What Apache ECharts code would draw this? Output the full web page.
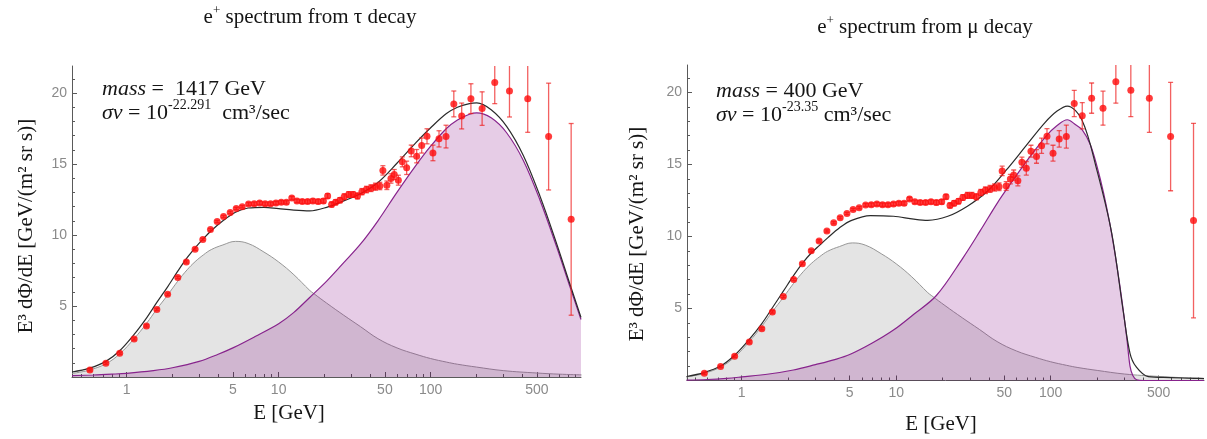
<!DOCTYPE html>
<html>
<head>
<meta charset="utf-8">
<script src="https://cdn.jsdelivr.net/npm/echarts@6.0.0/dist/echarts.min.js"></script>
<style>
  html, body { margin: 0; padding: 0; background: #fff; }
  #chart { width: 1207px; height: 439px; }
</style>
</head>
<body>
<div id="chart"></div>
<script>
// ---------- Tick values ----------
const xMajorTicks = [1, 5, 10, 50, 100, 500];
const xMinorTicks = [0.5, 0.6, 0.7, 0.8, 0.9, 2, 3, 4, 6, 7, 8, 9, 20, 30, 40, 60, 70, 80, 90, 200, 300, 400, 600, 700, 800, 900];
const yMajorTicks = [5, 10, 15, 20];
const yMinorTicks = [1, 2, 3, 4, 6, 7, 8, 9, 11, 12, 13, 14, 16, 17, 18, 19, 21];

// ---------- Measured positron data (E in GeV, E^3 flux) ----------
const dataE = [0.573, 0.73, 0.90, 1.12, 1.35, 1.58, 1.86, 2.17, 2.47, 2.82, 3.17, 3.56, 3.94, 4.34, 4.80, 5.26, 5.76, 6.34,
  6.9, 7.5, 8.15, 8.85, 9.6, 10.4, 11.25, 12.2, 13.2, 14.3, 15.5, 16.8, 18.2, 19.7, 21.0, 22.3, 23.7, 25.3, 27.0, 28.9,
  30.9, 33.0, 35.3, 37.8, 40.5, 43.3, 46.3, 48.5, 51.5, 54.8, 57.6, 61.3, 65.1, 69.5, 74.5, 80.9, 87.3, 94.6, 103.5,
  113.5, 126.2, 142, 160, 184, 218, 264, 330, 435, 597, 840];
const dataV = [0.50, 0.97, 1.68, 2.68, 3.60, 4.76, 5.83, 7.01, 8.10, 9.0, 9.69, 10.38, 10.95, 11.30, 11.59, 11.87, 11.99, 12.18,
  12.2, 12.25, 12.2, 12.2, 12.25, 12.3, 12.3, 12.6, 12.4, 12.35, 12.35, 12.4, 12.35, 12.4, 12.75, 12.15, 12.3, 12.45, 12.7, 12.85,
  12.85, 12.75, 13.05, 13.2, 13.3, 13.4, 13.45, 14.55, 13.5, 13.98, 14.26, 13.86, 15.15, 14.73, 15.92, 15.55, 16.30, 16.95, 15.78,
  16.77, 16.93, 19.23, 18.38, 19.6, 18.9, 20.73, 20.14, 19.6, 16.93, 11.1];
const dataErr = [0.08, 0.08, 0.08, 0.08, 0.08, 0.08, 0.08, 0.08, 0.08, 0.08, 0.08, 0.08, 0.08, 0.08, 0.08, 0.08, 0.08, 0.1,
  0.12, 0.12, 0.12, 0.12, 0.12, 0.12, 0.12, 0.12, 0.12, 0.13, 0.13, 0.14, 0.15, 0.15, 0.16, 0.17, 0.18, 0.18, 0.2, 0.2,
  0.2, 0.21, 0.22, 0.23, 0.24, 0.25, 0.26, 0.33, 0.3, 0.33, 0.35, 0.35, 0.35, 0.47, 0.41, 0.47, 0.53, 0.53, 0.55,
  0.57, 0.8, 0.91, 0.91, 1.05, 1.18, 1.48, 1.83, 2.37, 3.76, 6.75];

// ---------- Astrophysical background (grey) ----------
const bgE = [0.437, 0.5, 0.57, 0.73, 0.9, 1.12, 1.35, 1.58, 1.86, 2.17, 2.5, 2.82, 3.2, 3.6, 4.3, 5.2, 6.3, 8.0, 10, 12.6, 16, 17,
  20.7, 26.8, 34.5, 45, 60, 80, 100, 127, 150, 200, 300, 500, 700, 982];
const bgV = [0.25, 0.35, 0.49, 0.93, 1.63, 2.7, 3.77, 4.78, 5.77, 6.75, 7.55, 8.12, 8.6, 8.97, 9.3, 9.55, 9.4, 8.8, 8.1, 7.2, 6.1, 5.88,
  5.2, 4.35, 3.55, 2.7, 2.05, 1.6, 1.3, 1.05, 0.9, 0.7, 0.45, 0.28, 0.2, 0.15];

// ---------- tau channel, mass 1417 GeV ----------
const tauSigE = [0.437, 0.6, 0.8, 1.0, 1.5, 2.0, 3.0, 4.0, 5.0, 7.0, 10, 12.6, 16, 20.7, 26.8, 34.5, 45, 60, 80, 100, 127, 150,
  180, 201, 250, 316, 407, 524, 675, 825, 975];
const tauSigV = [0.1, 0.14, 0.2, 0.26, 0.45, 0.65, 1.1, 1.6, 2.05, 2.85, 3.75, 4.55, 5.6, 6.75, 8.05, 9.35, 11.0, 13.0, 14.9, 16.25,
  17.5, 18.1, 18.5, 18.6, 18.25, 17.2, 15.25, 12.45, 9.15, 6.35, 4.05];
const tauTotE = [0.437, 0.57, 0.73, 0.9, 1.12, 1.35, 1.58, 1.86, 2.17, 2.5, 2.82, 3.2, 3.6, 4.3, 5.2, 6.3, 8.0, 10, 12.6, 16,
  20.7, 26.8, 34.5, 45, 60, 80, 100, 127, 150, 180, 201, 250, 316, 407, 524, 675, 825, 975];
const tauTotV = [0.35, 0.62, 1.1, 1.85, 3.0, 4.15, 5.25, 6.35, 7.45, 8.4, 9.1, 9.75, 10.3, 11.0, 11.6, 11.9, 11.95, 11.85, 11.75, 11.7,
  11.95, 12.4, 12.9, 13.7, 15.05, 16.5, 17.55, 18.55, 19.0, 19.25, 19.3, 18.82, 17.65, 15.6, 12.73, 9.37, 6.53, 4.2];

// ---------- mu channel, mass 400 GeV ----------
const muSigE = [0.44, 0.6, 0.8, 1.0, 1.5, 2.16, 3.0, 4.0, 5.0, 7.0, 9.6, 13, 18.2, 27, 35, 45, 57, 73, 94, 110, 128, 145, 160,
  180, 199, 220, 248, 281, 310, 326, 340, 360, 400, 982];
const muSigV = [0.03, 0.07, 0.15, 0.25, 0.45, 0.73, 1.1, 1.45, 1.8, 2.6, 3.5, 4.6, 5.9, 8.5, 10.4, 12.3, 13.9, 15.5, 17.0, 17.7, 18.1,
  17.75, 17.4, 16.4, 14.9, 13.0, 10.2, 6.5, 3.05, 1.0, 0.35, 0.05, 0, 0];
const muTotE = [0.44, 0.57, 0.73, 0.9, 1.12, 1.35, 1.58, 1.86, 2.17, 2.5, 2.82, 3.2, 3.6, 4.3, 5.1, 6.8, 9.6, 13, 16, 21.6, 28.9,
  38.6, 51.5, 68.7, 91.8, 110, 128, 159, 199, 248, 296, 326, 357, 428, 600, 850, 982];
const muTotV = [0.28, 0.55, 1.0, 1.75, 2.85, 3.95, 5.05, 6.2, 7.3, 8.2, 8.85, 9.4, 9.9, 10.6, 11.1, 11.45, 11.4, 11.2, 11.12, 11.4, 12.1,
  13.1, 14.6, 16.25, 17.9, 18.7, 19.05, 18.1, 14.6, 10.24, 4.67, 1.89, 0.96, 0.27, 0.2, 0.15, 0.13];

// ---------- Texts ----------
const titles = ['spectrum from τ decay', 'spectrum from μ decay'];
const masses = ['1417', '400'];
const sigmaExps = ['-22.291', '-23.35'];
const xTitle = 'E [GeV]';
const yTitle = 'E³ dΦ/dE [GeV/(m² sr s)]';

// ---------- Build option ----------
const zip = (a, b) => a.map((v, i) => [v, b[i]]);
const axisColor = '#5a5a5a';
const serif = '"Liberation Serif", "Times New Roman", serif';

function mkX(gi, major, min, max) {
  return {
    type: 'log', logBase: 10, gridIndex: gi, min: min, max: max, position: 'bottom',
    axisLine: { show: major, onZero: false, lineStyle: { color: axisColor, width: 1 } },
    axisTick: { show: true, inside: true, length: major ? 5 : 3, customValues: major ? xMajorTicks : xMinorTicks,
      lineStyle: { color: axisColor, width: 1 } },
    axisLabel: { show: major, customValues: xMajorTicks, margin: 6, color: '#8a8a8a', fontSize: 14,
      fontFamily: '"Liberation Sans", Arial, sans-serif', formatter: v => String(Math.round(v)) },
    splitLine: { show: false }, minorTick: { show: false }
  };
}
function mkY(gi, major) {
  return {
    type: 'value', gridIndex: gi, min: 0, max: 21.9, position: 'left',
    axisLine: { show: major, onZero: false, lineStyle: { color: axisColor, width: 1 } },
    axisTick: { show: true, inside: true, length: major ? 5 : 3, customValues: major ? yMajorTicks : yMinorTicks,
      lineStyle: { color: axisColor, width: 1 } },
    axisLabel: { show: major, customValues: yMajorTicks, margin: 5, color: '#8a8a8a', fontSize: 14,
      fontFamily: '"Liberation Sans", Arial, sans-serif' },
    splitLine: { show: false }
  };
}

function errRender(params, api) {
  const x = api.value(0), lo = api.value(1), hi = api.value(2);
  const top = api.coord([x, hi]);
  const bot = api.coord([x, lo]);
  const w = 2.5;
  const style = { stroke: 'rgba(238,30,30,0.7)', lineWidth: 1.3 };
  return {
    type: 'group',
    children: [
      { type: 'line', shape: { x1: top[0], y1: top[1], x2: bot[0], y2: bot[1] }, style: style },
      { type: 'line', shape: { x1: top[0] - w, y1: top[1], x2: top[0] + w, y2: top[1] }, style: style },
      { type: 'line', shape: { x1: bot[0] - w, y1: bot[1], x2: bot[0] + w, y2: bot[1] }, style: style }
    ]
  };
}

function panelSeries(axisIdx, sigE, sigV, totE, totV) {
  return [
    { type: 'line', xAxisIndex: axisIdx, yAxisIndex: axisIdx, data: zip(bgE, bgV), showSymbol: false, smooth: 0.4,
      lineStyle: { color: '#969696', width: 1 }, areaStyle: { color: 'rgba(0,0,0,0.105)', opacity: 1 }, z: 1, silent: true },
    { type: 'line', xAxisIndex: axisIdx, yAxisIndex: axisIdx, data: zip(sigE, sigV), showSymbol: false, smooth: 0.35,
      lineStyle: { color: '#87238c', width: 1.2 }, areaStyle: { color: 'rgba(128,0,128,0.2)', opacity: 1 }, z: 2, silent: true },
    { type: 'line', xAxisIndex: axisIdx, yAxisIndex: axisIdx, data: zip(totE, totV), showSymbol: false, smooth: 0.35,
      lineStyle: { color: '#2b2b2b', width: 1.2 }, z: 3, silent: true },
    { type: 'custom', xAxisIndex: axisIdx, yAxisIndex: axisIdx, clip: true, renderItem: errRender, z: 4,
      encode: { x: 0, y: [1, 2] },
      data: dataE.map((e, i) => [e, dataV[i] - dataErr[i], dataV[i] + dataErr[i]]) },
    { type: 'scatter', xAxisIndex: axisIdx, yAxisIndex: axisIdx, data: zip(dataE, dataV), symbol: 'circle', symbolSize: 7,
      itemStyle: { color: '#ff0a0a' }, z: 5, clip: true }
  ];
}

function txt(x, y, text, rich, size, extra) {
  return {
    type: 'text', x: x, y: y, silent: true,
    style: Object.assign({ text: text, font: size + 'px ' + serif, fill: '#151515', rich: rich }, extra || {})
  };
}
const richBase = {
  n: { fontFamily: serif, fontSize: 22, lineHeight: 26, verticalAlign: 'bottom', color: '#151515' },
  i: { fontFamily: serif, fontSize: 22, fontStyle: 'italic', lineHeight: 26, verticalAlign: 'bottom', color: '#151515' },
  s: { fontFamily: serif, fontSize: 14, lineHeight: 13, verticalAlign: 'top', color: '#151515' }
};
const richTitle = {
  n: { fontFamily: serif, fontSize: 21, lineHeight: 24, verticalAlign: 'bottom', color: '#151515' },
  s: { fontFamily: serif, fontSize: 13, lineHeight: 12, verticalAlign: 'top', color: '#151515' }
};

const graphics = [
  txt(310, 16, '{n|e}{s|+}{n| ' + titles[0] + '}', richTitle, 21, { align: 'center', verticalAlign: 'middle' }),
  txt(925, 26, '{n|e}{s|+}{n| ' + titles[1] + '}', richTitle, 21, { align: 'center', verticalAlign: 'middle' }),
  txt(102, 87, '{i|mass}{n| =  ' + masses[0] + ' GeV}', richBase, 22, { align: 'left', verticalAlign: 'middle' }),
  txt(102, 111, '{i|σv}{n| = 10}{s|' + sigmaExps[0] + '}{n|  cm³/sec}', richBase, 22, { align: 'left', verticalAlign: 'middle' }),
  txt(716, 89, '{i|mass}{n| = ' + masses[1] + ' GeV}', richBase, 22, { align: 'left', verticalAlign: 'middle' }),
  txt(716, 113, '{i|σv}{n| = 10}{s|' + sigmaExps[1] + '}{n| cm³/sec}', richBase, 22, { align: 'left', verticalAlign: 'middle' }),
  txt(289, 413, xTitle, null, 21, { align: 'center', verticalAlign: 'middle' }),
  txt(941, 424, xTitle, null, 21, { align: 'center', verticalAlign: 'middle' }),
  Object.assign(txt(26, 226, yTitle, null, 21, { align: 'center', verticalAlign: 'middle' }), { rotation: Math.PI / 2 }),
  Object.assign(txt(637, 234, yTitle, null, 21, { align: 'center', verticalAlign: 'middle' }), { rotation: Math.PI / 2 })
];

const option = {
  animation: false,
  backgroundColor: '#ffffff',
  grid: [
    { left: 72, top: 66, width: 509, height: 311 },
    { left: 687, top: 65, width: 517, height: 315.5 }
  ],
  xAxis: [mkX(0, true, 0.437, 975), mkX(0, false, 0.437, 975), mkX(1, true, 0.4426, 982), mkX(1, false, 0.4426, 982)],
  yAxis: [mkY(0, true), mkY(0, false), mkY(1, true), mkY(1, false)],
  series: [].concat(
    panelSeries(0, tauSigE, tauSigV, tauTotE, tauTotV),
    panelSeries(2, muSigE, muSigV, muTotE, muTotV)
  ),
  graphic: graphics
};

const chart = echarts.init(document.getElementById('chart'), null, { renderer: 'canvas' });
chart.setOption(option);
</script>
</body>
</html>
